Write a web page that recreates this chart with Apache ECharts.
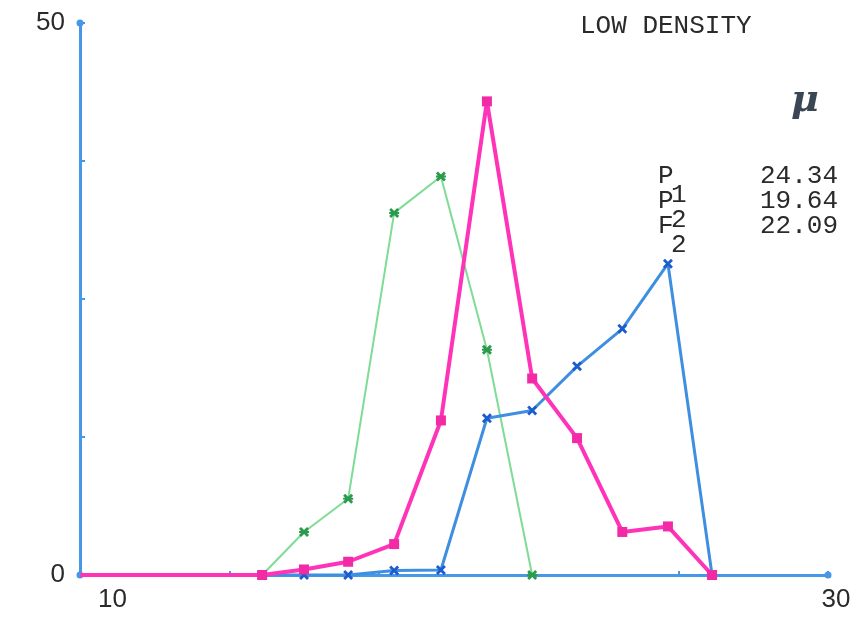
<!DOCTYPE html>
<html>
<head>
<meta charset="utf-8">
<script src="https://cdn.jsdelivr.net/npm/echarts@6/dist/echarts.min.js"></script>
<style>
html,body{margin:0;padding:0;background:#fff;}
#chart{width:854px;height:619px;}
</style>
</head>
<body>
<div id="chart"></div>
<script>
// x positions of the bins
const binX = [10, 14.87, 15.99, 17.17, 18.40, 19.65, 20.88, 22.09, 23.29, 24.50, 25.72, 26.90];
// percentage values per bin (first entry = start of curve at x=10)
const f2Values = [0, 0, 0.5, 1.2, 2.8, 14.0, 42.9, 17.8, 12.4, 3.9, 4.4, 0];
const p2Values = [0, 0, 3.9, 6.9, 32.8, 36.1, 20.4, 0];
const p1Values = [0, 0, 0, 0, 0.4, 0.45, 14.2, 14.9, 18.9, 22.3, 28.2, 0];
const xTickLabels = ['10', '30'];
const yTickLabels = ['0', '50'];
const titleText = 'LOW DENSITY';
const muText = 'μ';
const legendNames = ['P', 'P', 'F'];
const legendSubs = ['1', '2', '2'];
const legendMeans = ['24.34', '19.64', '22.09'];

function toData(vals) {
  return vals.map((v, i) => i === 0 ? { value: [binX[i], v], symbol: 'none' } : { value: [binX[i], v] });
}

const AXIS_BLUE = '#4697e6';
const xSym = 'path://M0,2L2,0L5,3L8,0L10,2L7,5L10,8L8,10L5,7L2,10L0,8L3,5Z';
const gSym = 'path://M0,2L2,0L5,3L8,0L10,2L7,5L10,8L8,10L5,7L2,10L0,8L3,5ZM0,4L10,4L10,6L0,6Z';
const mono = '"Liberation Mono", "DejaVu Sans Mono", monospace';
const textColor = '#2a2a2a';

const graphics = [
  { type: 'text', left: 580, top: 13, style: { text: titleText, font: '26px ' + mono, fill: textColor } },
  { type: 'text', left: 791, top: 82, style: { text: muText, font: 'italic bold 38px "DejaVu Serif", serif', fill: '#3b4654' } }
];
legendNames.forEach((n, i) => {
  const cy = 176 + i * 25;
  graphics.push({ type: 'text', x: 658, y: cy, style: { text: n, font: '26px ' + mono, fill: textColor, verticalAlign: 'middle', align: 'left' } });
  graphics.push({ type: 'text', x: 671, y: cy + 19, style: { text: legendSubs[i], font: '26px ' + mono, fill: textColor, verticalAlign: 'middle', align: 'left' } });
  graphics.push({ type: 'text', x: 838, y: cy, style: { text: legendMeans[i], font: '26px ' + mono, fill: textColor, verticalAlign: 'middle', align: 'right' } });
});

const chart = echarts.init(document.getElementById('chart'), null, { renderer: 'canvas' });
chart.setOption({
  animation: false,
  backgroundColor: '#ffffff',
  grid: { left: 80, right: 26, top: 23, bottom: 44, containLabel: false },
  xAxis: {
    type: 'value', min: 10, max: 30, interval: 4,
    splitLine: { show: false },
    axisLine: { lineStyle: { color: AXIS_BLUE, width: 3 }, symbol: ['circle', 'circle'], symbolSize: [7, 7] },
    axisTick: { show: true, inside: true, length: 4, lineStyle: { color: AXIS_BLUE, width: 2 } },
    axisLabel: {
      margin: 12,
      fontFamily: '"Liberation Sans", Arial, sans-serif',
      fontSize: 26, color: textColor,
      showMinLabel: true, showMaxLabel: true,
      formatter: function (v) {
        if (v === 10) return '{lo|' + xTickLabels[0] + '}';
        if (v === 30) return '{hi|' + xTickLabels[1] + '}';
        return '';
      },
      rich: {
        lo: { fontSize: 26, fontFamily: '"Liberation Sans", Arial, sans-serif', color: textColor, padding: [0, 0, 0, 65] },
        hi: { fontSize: 26, fontFamily: '"Liberation Sans", Arial, sans-serif', color: textColor, padding: [0, 0, 0, 16] }
      }
    }
  },
  yAxis: {
    type: 'value', min: 0, max: 50, interval: 12.5,
    splitLine: { show: false },
    axisLine: { show: true, lineStyle: { color: AXIS_BLUE, width: 3 }, symbol: ['none', 'circle'], symbolSize: [7, 7] },
    axisTick: { show: true, inside: true, length: 5, lineStyle: { color: AXIS_BLUE, width: 2 } },
    axisLabel: {
      margin: 15,
      fontFamily: '"Liberation Sans", Arial, sans-serif',
      fontSize: 26, color: textColor,
      padding: [0, 0, 10, 0],
      formatter: function (v) {
        if (v === 0) return yTickLabels[0];
        if (v === 50) return yTickLabels[1];
        return '';
      }
    }
  },
  graphic: graphics,
  series: [
    {
      name: 'P2', type: 'line', data: toData(p2Values),
      symbol: gSym, symbolSize: 10,
      lineStyle: { color: '#7fdc95', width: 2 },
      itemStyle: { color: '#2a9a4c' }, z: 3
    },
    {
      name: 'P1', type: 'line', data: toData(p1Values),
      symbol: xSym, symbolSize: 10,
      lineStyle: { color: '#3f8fe0', width: 3 },
      itemStyle: { color: '#1d5ccc' }, z: 4
    },
    {
      name: 'F2', type: 'line', data: toData(f2Values),
      symbol: 'rect', symbolSize: 10,
      lineStyle: { color: '#ff33b8', width: 4 },
      itemStyle: { color: '#f22aa5' }, z: 5
    }
  ]
});
</script>
</body>
</html>
